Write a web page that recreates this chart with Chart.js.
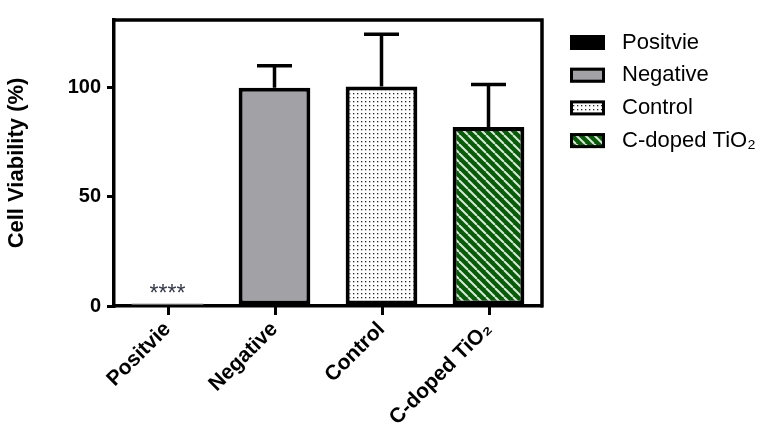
<!DOCTYPE html>
<html>
<head>
<meta charset="utf-8">
<script src="https://cdn.jsdelivr.net/npm/chart.js@4.4.1/dist/chart.umd.min.js"></script>
<style>
html, body { margin: 0; padding: 0; background: #fff; }
</style>
</head>
<body>
<canvas id="viabilityChart" width="773" height="437"></canvas>
<script>
// data
const groups = ['Positvie', 'Negative', 'Control', 'C-doped TiO₂'];
const viability = [1.3, 100, 100.5, 82];
const errorTop = [null, 110, 124.5, 101.5];
const significance = ['****', '', '', ''];
const yTicks = [0, 50, 100];

const FONT = '"Liberation Sans", Arial, sans-serif';
const canvas = document.getElementById('viabilityChart');
const ctx = canvas.getContext('2d');

function dotPattern() {
  const c = document.createElement('canvas');
  c.width = 4; c.height = 4;
  const g = c.getContext('2d');
  g.fillStyle = '#fff';
  g.fillRect(0, 0, 4, 4);
  g.fillStyle = '#222';
  g.fillRect(1, 1, 1.3, 1.3);
  return ctx.createPattern(c, 'repeat');
}

function stripePattern() {
  const s = 9;
  const c = document.createElement('canvas');
  c.width = s; c.height = s;
  const g = c.getContext('2d');
  g.fillStyle = '#055d05';
  g.fillRect(0, 0, s, s);
  g.strokeStyle = '#dfe6df';
  g.lineWidth = 2;
  [-s, 0, s].forEach(o => {
    g.beginPath();
    g.moveTo(o, 0);
    g.lineTo(o + s, s);
    g.stroke();
  });
  return ctx.createPattern(c, 'repeat');
}

const legendFills = ['#000000', '#a2a1a6', dotPattern(), stripePattern()];
// the positive bar is nearly zero and shows only as a faint line
const barFills = ['#c4c4c4', legendFills[1], legendFills[2], legendFills[3]];

// error bars (upper only), frame, x tick marks, significance marks and legend
const extras = {
  id: 'extras',
  afterDatasetsDraw(chart) {
    const c = chart.ctx;
    const y = chart.scales.y;
    const meta = chart.getDatasetMeta(0);
    c.save();
    c.strokeStyle = '#000';
    c.lineWidth = 3.5;
    meta.data.forEach((bar, i) => {
      if (errorTop[i] == null) return;
      const yt = y.getPixelForValue(errorTop[i]);
      c.beginPath();
      c.moveTo(bar.x, bar.y);
      c.lineTo(bar.x, yt);
      c.moveTo(bar.x - 17.5, yt);
      c.lineTo(bar.x + 17.5, yt);
      c.stroke();
    });
    c.fillStyle = '#333a48';
    c.font = '23px ' + FONT;
    c.textAlign = 'center';
    c.textBaseline = 'alphabetic';
    meta.data.forEach((bar, i) => {
      if (significance[i]) c.fillText(significance[i], bar.x, y.getPixelForValue(2.3));
    });
    c.restore();
  },
  afterDraw(chart) {
    const c = chart.ctx;
    const a = chart.chartArea;
    const x = chart.scales.x;
    c.save();
    c.strokeStyle = '#000';
    c.lineWidth = 3.5;
    c.beginPath();
    c.moveTo(a.left - 1.5, a.top);
    c.lineTo(a.right, a.top);
    c.lineTo(a.right, a.bottom + 1.5);
    c.stroke();

    c.lineWidth = 3;
    c.strokeStyle = '#000';
    groups.forEach((g, i) => {
      const px = Math.round(x.getPixelForTick(i)) + 0.5;
      c.beginPath();
      c.moveTo(px, a.bottom);
      c.lineTo(px, a.bottom + 9);
      c.stroke();
    });

    // legend
    c.font = '22px ' + FONT;
    c.textBaseline = 'middle';
    c.textAlign = 'left';
    groups.forEach((g, i) => {
      const cy = 42.5 + i * 32.7;
      c.fillStyle = legendFills[i];
      c.fillRect(570, cy - 7.5, 35, 15);
      c.lineWidth = 3;
      c.strokeStyle = '#000';
      c.strokeRect(571.5, cy - 6, 32, 12);
      c.fillStyle = '#000';
      c.fillText(g, 622, cy);
    });
    c.restore();
  }
};

new Chart(ctx, {
  type: 'bar',
  data: {
    labels: groups,
    datasets: [{
      data: viability,
      backgroundColor: barFills,
      borderColor: '#000',
      borderWidth: [0, 4, 4, 4],
      borderSkipped: false,
      barPercentage: 0.67,
      categoryPercentage: 1.0
    }]
  },
  options: {
    responsive: false,
    animation: false,
    layout: { padding: { top: 20, right: 231, left: 0, bottom: 0 } },
    plugins: {
      legend: { display: false },
      tooltip: { enabled: false }
    },
    scales: {
      x: {
        afterFit(scale) { scale.height = 131; },
        grid: { drawOnChartArea: false, drawTicks: true, tickLength: 9, color: 'rgba(0,0,0,0)' },
        border: { display: true, color: '#000', width: 3.5 },
        ticks: {
          autoSkip: false,
          minRotation: 45,
          maxRotation: 45,
          padding: 2,
          color: '#000',
          font: { family: FONT, size: 21, weight: 'bold' }
        }
      },
      y: {
        min: 0,
        max: 131,
        afterFit(scale) { scale.width = 114; },
        afterBuildTicks(scale) { scale.ticks = yTicks.map(v => ({ value: v })); },
        grid: { drawOnChartArea: false, drawTicks: true, tickLength: 7, lineWidth: 3, color: '#000' },
        border: { display: true, color: '#000', width: 3.5 },
        ticks: {
          padding: 6,
          color: '#000',
          font: { family: FONT, size: 20, weight: 'bold' }
        },
        title: {
          display: true,
          text: 'Cell Viability (%)',
          color: '#000',
          padding: { top: 4, bottom: 0 },
          font: { family: FONT, size: 22, weight: 'bold' }
        }
      }
    }
  },
  plugins: [extras]
});
</script>
</body>
</html>
